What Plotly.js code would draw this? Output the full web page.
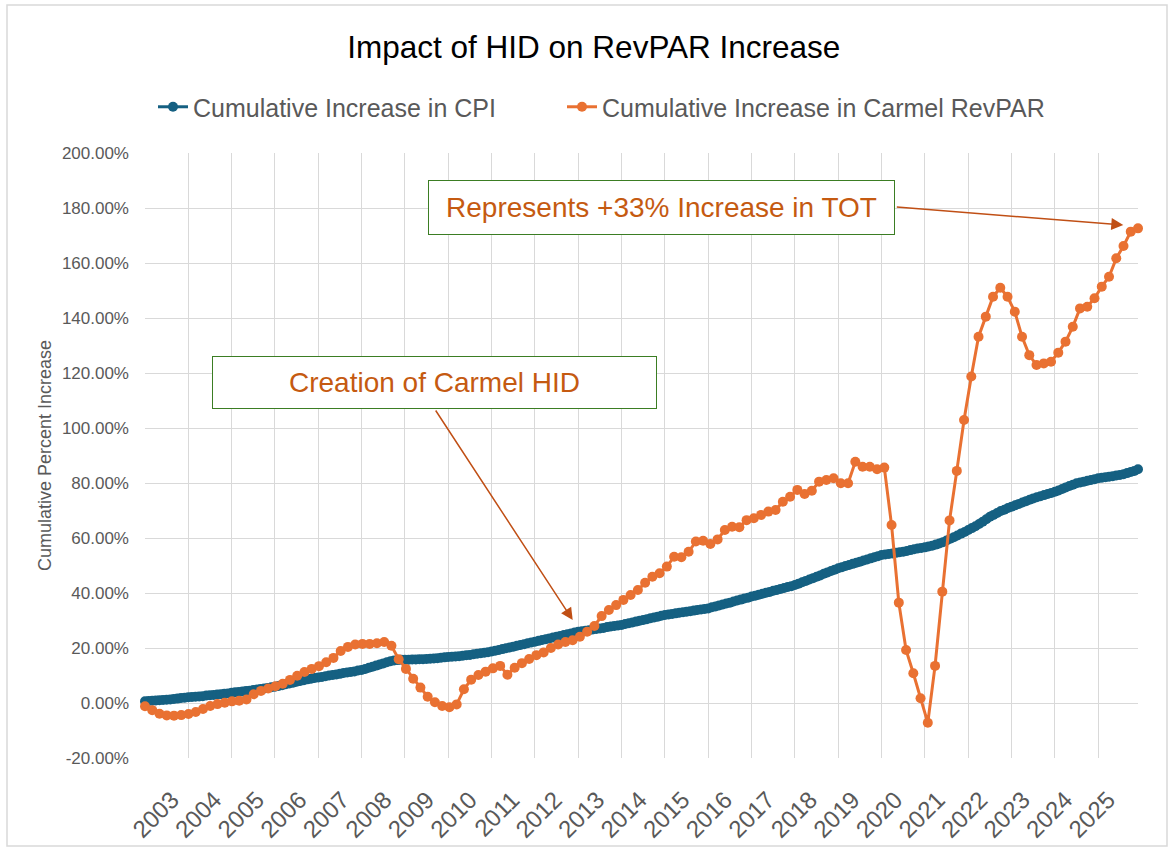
<!DOCTYPE html>
<html><head><meta charset="utf-8">
<script src="https://cdn.plot.ly/plotly-3.0.1.min.js"></script>
<style>html,body{margin:0;padding:0;background:#fff}#chart{width:1171px;height:848px}</style>
</head><body><div id="chart"></div><script>
// ---- DATA ----
const yearLabels = ['2003','2004','2005','2006','2007','2008','2009','2010','2011','2012','2013','2014',
  '2015','2016','2017','2018','2019','2020','2021','2022','2023','2024','2025'];

// Cumulative increase in CPI (%), monthly Jan 2003 - Dec 2025
const cpiMonthly = [
  0.6,0.7,0.8,0.9,1.0,1.1,1.2,1.3,1.5,1.6,1.8,1.9,
  2.1,2.2,2.3,2.4,2.5,2.7,2.8,2.9,3.1,3.2,3.4,3.5,
  3.7,3.9,4.0,4.2,4.4,4.5,4.7,4.9,5.1,5.3,5.5,5.7,
  5.9,6.2,6.5,6.8,7.1,7.4,7.7,8.0,8.3,8.6,8.8,9.1,
  9.3,9.5,9.7,10.0,10.2,10.4,10.6,10.9,11.1,11.3,11.5,11.8,
  12.0,12.4,12.8,13.2,13.6,14.0,14.4,14.8,15.2,15.5,15.6,15.7,
  15.7,15.7,15.8,15.8,15.9,15.9,16.0,16.1,16.2,16.3,16.5,16.6,
  16.7,16.8,16.9,17.0,17.2,17.4,17.5,17.7,17.9,18.1,18.3,18.5,
  18.7,19.0,19.3,19.6,19.9,20.2,20.5,20.8,21.1,21.4,21.7,22.0,
  22.3,22.6,22.9,23.2,23.5,23.8,24.1,24.4,24.7,25.0,25.3,25.6,
  25.9,26.1,26.3,26.5,26.7,26.9,27.1,27.3,27.6,27.8,28.0,28.2,
  28.4,28.7,29.0,29.3,29.6,29.9,30.2,30.5,30.8,31.1,31.4,31.7,
  32.0,32.2,32.4,32.6,32.8,33.0,33.2,33.4,33.6,33.8,34.0,34.2,
  34.4,34.8,35.1,35.5,35.8,36.2,36.5,36.9,37.3,37.6,38.0,38.3,
  38.7,39.0,39.4,39.7,40.1,40.4,40.8,41.1,41.5,41.8,42.2,42.5,
  42.9,43.4,43.9,44.4,44.9,45.4,45.9,46.4,47.0,47.5,48.0,48.5,
  49.0,49.4,49.8,50.2,50.6,51.0,51.4,51.8,52.2,52.6,53.0,53.4,
  53.8,54.0,54.2,54.4,54.6,54.8,55.0,55.3,55.6,55.9,56.2,56.4,
  56.6,56.9,57.2,57.6,58.0,58.5,59.1,59.7,60.3,60.9,61.6,62.2,
  62.9,63.6,64.3,65.1,65.9,66.8,67.7,68.4,69.1,69.8,70.3,70.9,
  71.4,71.9,72.4,72.9,73.4,73.9,74.4,74.8,75.2,75.6,76.0,76.4,
  76.8,77.3,77.8,78.4,78.9,79.4,79.9,80.2,80.5,80.8,81.1,81.4,
  81.7,81.9,82.1,82.3,82.5,82.7,82.9,83.2,83.6,84.0,84.4,85.0
];

// Cumulative increase in Carmel RevPAR (%), bi-monthly observations
const revparValues = [
  -1.2,-2.6,-3.9,-4.5,-4.6,-4.4,-4.0,-3.3,-2.2,-1.1,
  -0.4,0.1,0.6,0.85,1.3,3.2,4.4,5.3,6.1,7.0,
  8.4,9.9,11.3,12.4,13.4,14.8,16.4,18.9,20.4,21.3,
  21.5,21.5,21.7,22.2,20.8,15.9,12.4,8.8,5.6,2.3,
  0.3,-1.1,-1.5,-0.5,5.0,8.5,10.2,11.4,12.6,13.5,
  10.3,12.8,14.5,16.0,17.4,18.4,20.0,21.3,22.2,22.8,
  24.1,25.9,28.0,31.6,33.8,35.6,37.5,39.3,41.1,43.7,
  45.9,47.2,49.6,53.2,53.0,55.0,58.7,59.0,57.8,59.5,
  62.9,64.1,63.9,66.5,67.2,68.4,69.6,70.2,73.2,75.0,
  77.5,76.0,77.2,80.5,81.1,81.7,79.9,79.9,87.7,85.9,
  85.9,85.0,85.6,64.7,36.5,19.3,10.8,1.7,-7.2,13.5,
  40.5,66.4,84.4,102.9,118.7,133.2,140.5,147.7,151.0,147.7,
  142.3,133.2,126.5,122.9,123.5,124.1,127.4,131.4,136.8,143.5,
  144.1,147.2,151.4,155.0,161.7,166.2,171.4,172.6
];

const yTickVals = [-20,0,20,40,60,80,100,120,140,160,180,200];
const yTickText = ['-20.00%','0.00%','20.00%','40.00%','60.00%','80.00%','100.00%','120.00%','140.00%','160.00%','180.00%','200.00%'];

const seriesNames = ['Cumulative Increase in CPI','Cumulative Increase in Carmel RevPAR'];
const chartTitle = 'Impact of HID on RevPAR Increase';
const noteTOT = 'Represents +33% Increase in TOT';
const noteHID = 'Creation of Carmel HID';

// ---- CHART ----
const FONT = 'Liberation Sans, Arial, sans-serif';
const blue = '#156082', orange = '#E97132', noteColor = '#C55A11', arrowColor = '#C04F15', green = '#3B7D23';

const cpiX = cpiMonthly.map((_, i) => i);
const revX = revparValues.map((_, i) => i);
const yearIdx = yearLabels.map((_, i) => i);

const traces = [
  {type:'scatter', mode:'lines+markers', name:seriesNames[0], x:cpiX, y:cpiMonthly, legend:'legend',
   line:{color:blue, width:3}, marker:{color:blue, size:10}, cliponaxis:false, xaxis:'x', yaxis:'y'},
  {type:'scatter', mode:'lines+markers', name:seriesNames[1], x:revX, y:revparValues, legend:'legend2',
   line:{color:orange, width:3}, marker:{color:orange, size:10}, cliponaxis:false, xaxis:'x2', yaxis:'y'},
  // carrier for the year-label axis (draws nothing)
  {type:'scatter', mode:'markers', x:yearIdx, y:yearIdx.map(() => null), xaxis:'x3', yaxis:'y',
   showlegend:false, hoverinfo:'skip', marker:{opacity:0}}
];

const legendBase = {orientation:'h', xanchor:'left', y:1.076, yanchor:'middle',
  font:{family:FONT, size:25, color:'#595959'}, bgcolor:'rgba(0,0,0,0)', borderwidth:0};

const layout = {
  width:1171, height:848,
  margin:{l:145, r:33, t:153, b:90},
  paper_bgcolor:'#ffffff', plot_bgcolor:'#ffffff',
  font:{family:FONT, color:'#595959'},
  title:{text:chartTitle, font:{family:FONT, size:31.5, color:'#000000'},
         x:0.452, xref:'paper', xanchor:'center', y:1-47/848, yref:'container', yanchor:'middle'},
  showlegend:true,
  legend:Object.assign({}, legendBase, {x:(153-145)/993}),
  legend2:Object.assign({}, legendBase, {x:(562-145)/993}),
  // gridline axis (monthly categories)
  xaxis:{range:[0, cpiMonthly.length-1], tickmode:'array',
         tickvals:yearLabels.map((_, i) => i*12), showticklabels:false,
         showgrid:true, gridcolor:'#d9d9d9', gridwidth:1, zeroline:false, showline:false, ticks:'',
         automargin:false, fixedrange:true},
  xaxis2:{range:[0, revparValues.length-1], overlaying:'x', visible:false, fixedrange:true},
  // year label axis
  xaxis3:{range:[0, 23.337], overlaying:'x', anchor:'y', side:'bottom', tickmode:'array',
          tickvals:yearIdx, ticktext:yearLabels, tickangle:-45, tickfont:{size:24, color:'#595959'},
          showgrid:false, zeroline:false, showline:false, ticks:'', automargin:false,
          ticklabelshift:27, ticklabelstandoff:22, fixedrange:true},
  yaxis:{range:[-20, 200], tickmode:'array', tickvals:yTickVals, ticktext:yTickText,
         tickfont:{size:17, color:'#595959'}, showgrid:true, gridcolor:'#d9d9d9', gridwidth:1,
         zeroline:false, showline:false, ticks:'', automargin:false, ticklabelstandoff:15,
         title:{text:'Cumulative Percent Increase', font:{size:18, color:'#595959'}, standoff:5},
         fixedrange:true},
  shapes:[
    {type:'rect', xref:'paper', yref:'paper', x0:(7-145)/993, x1:(1167-145)/993, y0:(758-846)/605, y1:(758-5)/605,
     line:{color:'#d9d9d9', width:1.5}, fillcolor:'rgba(0,0,0,0)', layer:'below'}
  ],
  annotations:[
    {xref:'paper', yref:'paper', x:(661.5-145)/993, y:(758-207.5)/605, xanchor:'center', yanchor:'middle',
     text:noteTOT, showarrow:false, font:{family:FONT, size:28, color:noteColor},
     bgcolor:'#ffffff', bordercolor:green, borderwidth:1, borderpad:0, width:465, height:53},
    {xref:'paper', yref:'paper', x:(434.5-145)/993, y:(758-382.5)/605, xanchor:'center', yanchor:'middle',
     text:noteHID, showarrow:false, font:{family:FONT, size:28, color:noteColor},
     bgcolor:'#ffffff', bordercolor:green, borderwidth:1, borderpad:0, width:443, height:51},
    {xref:'paper', yref:'paper', x:(1123.3-145)/993, y:(758-225)/605, text:'', showarrow:true,
     ax:-228, ay:-18, arrowcolor:arrowColor, arrowwidth:1.5, arrowhead:2, arrowsize:1.6, standoff:0},
    {xref:'paper', yref:'paper', x:(572.7-145)/993, y:(758-620)/605, text:'', showarrow:true,
     ax:-138, ay:-211, arrowcolor:arrowColor, arrowwidth:1.5, arrowhead:2, arrowsize:1.6, standoff:0}
  ]
};

Plotly.newPlot('chart', traces, layout, {staticPlot:true, displayModeBar:false});
</script></body></html>
